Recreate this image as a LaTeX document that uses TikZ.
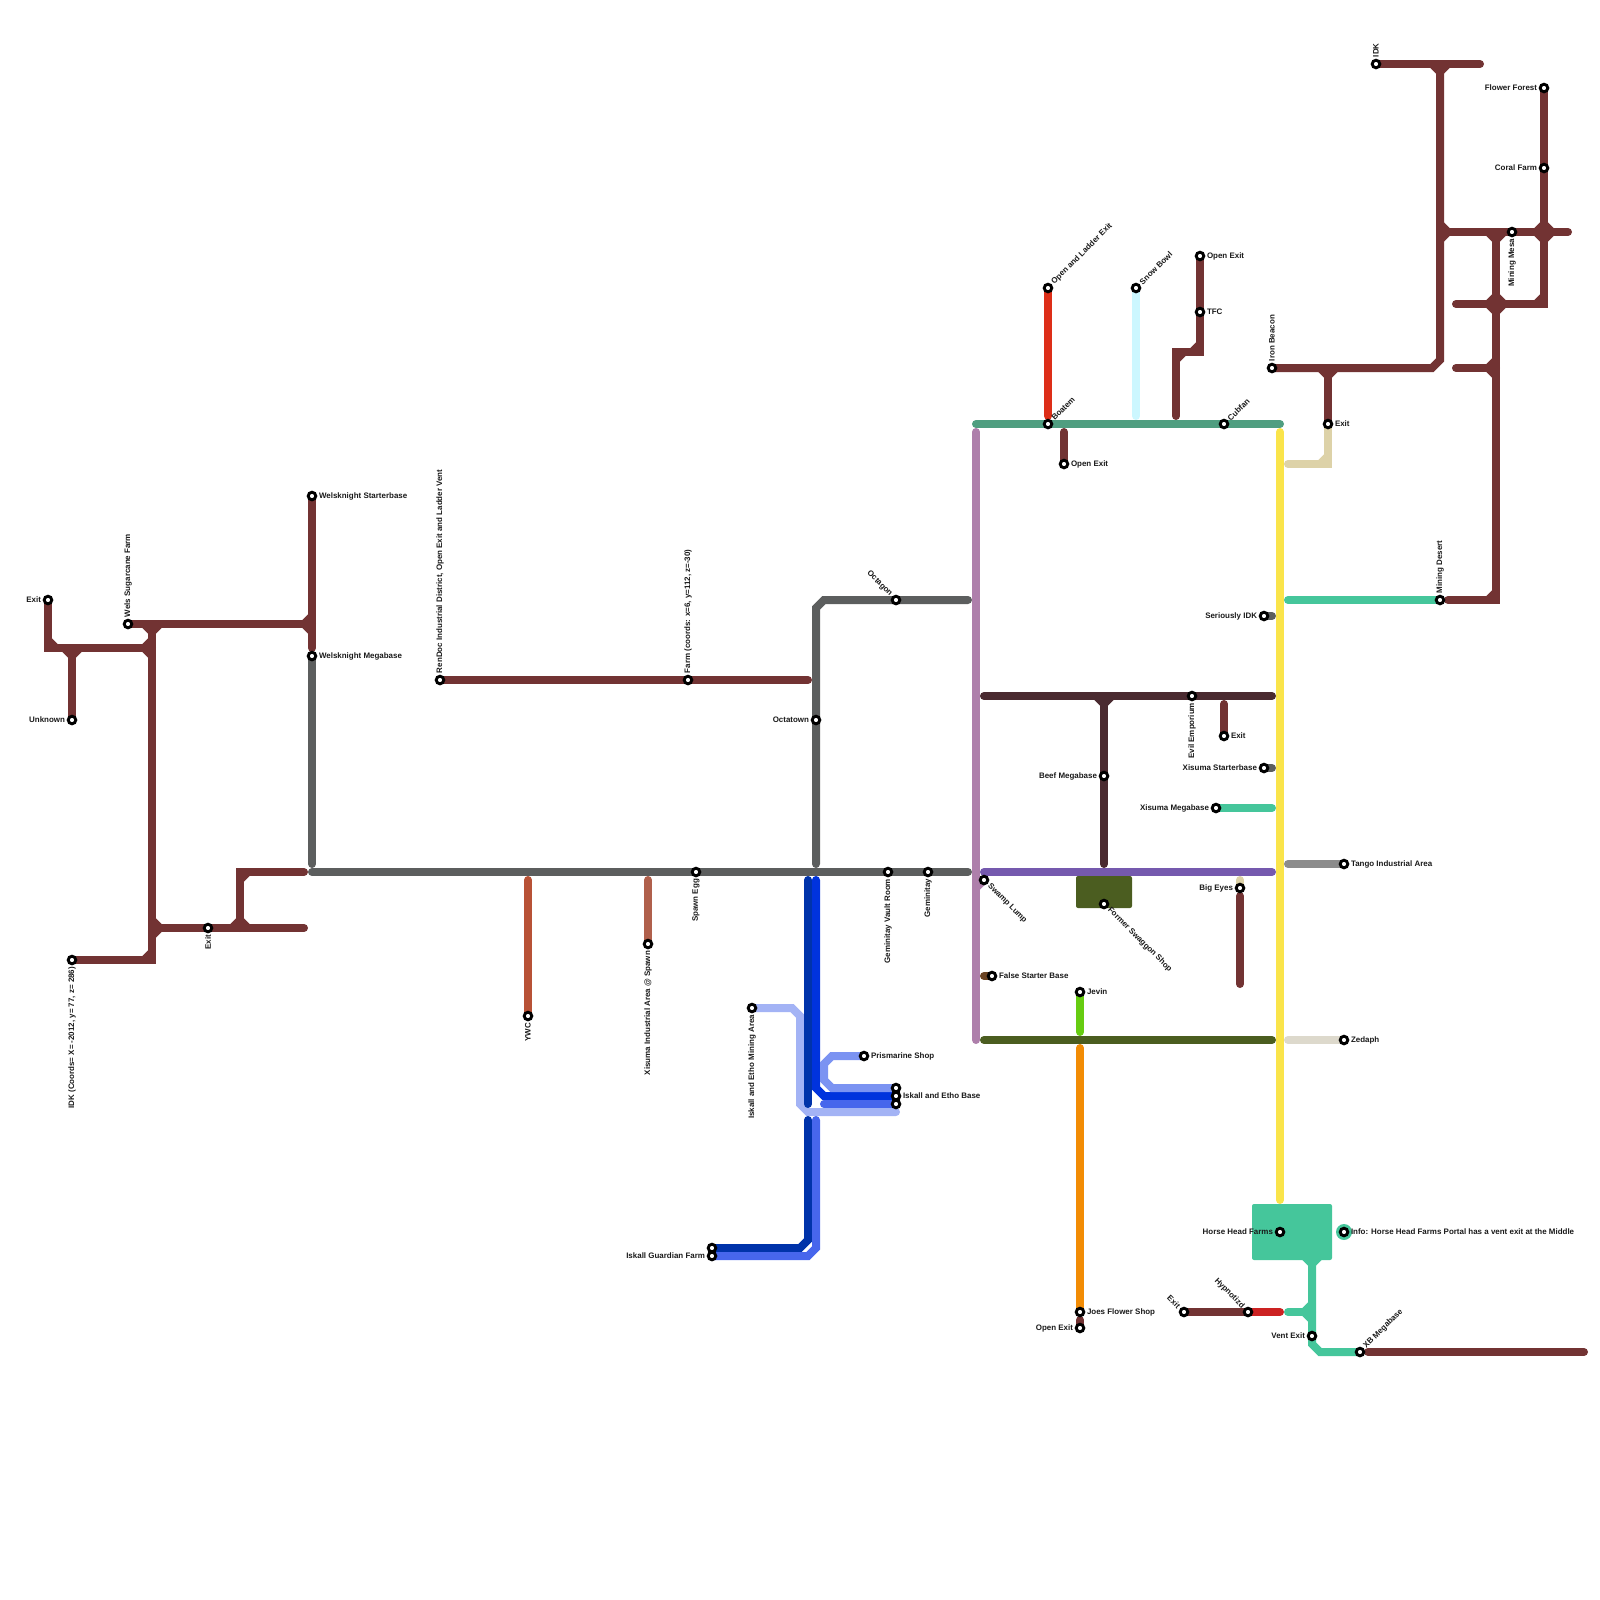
\documentclass[tikz,border=0pt]{standalone}
\usepackage{fontspec}
\setmainfont{Liberation Sans}
\usepackage{xcolor}
\usetikzlibrary{backgrounds}
\definecolor{wine}{HTML}{723333}
\definecolor{slate}{HTML}{5C5E5E}
\definecolor{plum}{HTML}{4A2A30}
\definecolor{mint}{HTML}{45C69B}
\definecolor{sea}{HTML}{4F9E80}
\definecolor{mauve}{HTML}{AE7FAB}
\definecolor{violet}{HTML}{7559AE}
\definecolor{moss}{HTML}{4B5D20}
\definecolor{lemon}{HTML}{FAE44A}
\definecolor{sand}{HTML}{DDD2A8}
\definecolor{navyb}{HTML}{0033AA}
\definecolor{brightb}{HTML}{0033DD}
\definecolor{royalb}{HTML}{4766EC}
\definecolor{periw}{HTML}{7B93F2}
\definecolor{paleb}{HTML}{A3B3F5}
\tikzset{
  metro/.style  = {line width=1mm, line cap=round, line join=miter},
  lwine/.style  = {metro, draw=wine},
  lslate/.style = {metro, draw=slate},
  lplum/.style  = {metro, draw=plum},
  lmint/.style  = {metro, draw=mint},
  lmoss/.style  = {metro, draw=moss},
  cham/.style   = {line cap=butt},
  stn/.style    = {circle, draw=black, fill=white, line width=0.36mm,
                   minimum size=0.95mm, inner sep=0pt},
  lbl/.style    = {font=\fontsize{2.83}{3.2}\selectfont\bfseries, inner sep=0.15mm,
                   text=black!90},
  lblR/.style   = {label={[lbl,anchor=west]0:{#1}}},
  lblL/.style   = {label={[lbl,anchor=east]180:{#1}}},
  lblU/.style   = {label={[lbl,rotate=90,anchor=west]90:{#1}}},
  lblD/.style   = {label={[lbl,rotate=90,anchor=east]270:{#1}}},
  lblNE/.style  = {label={[lbl,rotate=45,anchor=west]45:{#1}}},
  lblSE/.style  = {label={[lbl,rotate=-45,anchor=west]-45:{#1}}},
  lblNW/.style  = {label={[lbl,rotate=-45,anchor=east]135:{#1}}},
}
\begin{document}
\begin{tikzpicture}[x=1mm,y=-1mm]
  \useasboundingbox (0,0) rectangle (200,200);
  % stations, west to east
  \node[stn, lblL={Exit}] (exitA) at (6,75) {};
  \node[stn, lblL={Unknown}] (unknown) at (9,90) {};
  \node[stn, lblU={Wels Sugarcane Farm}] (welsFarm) at (16,78) {};
  \node[stn, lblD={IDK (Coords= X= -2012, y= 77, z= 286)}] (idkCoords) at (9,120) {};
  \node[stn, lblD={Exit}] (exitB) at (26,116) {};
  \node[stn, lblR={Welsknight Starterbase}] (welsStart) at (39,62) {};
  \node[stn, lblR={Welsknight Megabase}] (welsMega) at (39,82) {};
  \node[stn, lblU={RenDoc Industrial District, Open Exit and Ladder Vent}] (renDoc) at (55,85) {};
  \node[stn, lblU={Farm (coords: x=6, y=112, z=-30)}] (farm) at (86,85) {};
  \node[stn, lblD={YWC}] (ywc) at (66,127) {};
  \node[stn, lblD={Xisuma Industrial Area @ Spawn}] (xisIndustrial) at (81,118) {};
  \node[stn, lblD={Spawn Egg}] (spawnEgg) at (87,109) {};
  \node[stn, lblL={Octatown}] (octatown) at (102,90) {};
  \node[stn, lblNW={Octagon}] (octagon) at (112,75) {};
  \node[stn, lblD={Geminitay Vault Room}] (gemVault) at (111,109) {};
  \node[stn, lblD={Geminitay}] (geminitay) at (116,109) {};
  \node[stn, lblD={Iskall and Etho Mining Area}] (iskMining) at (94,126) {};
  \node[stn, lblR={Prismarine Shop}] (prismarine) at (108,132) {};
  \node[stn] (iskBaseA) at (112,136) {};
  \node[stn, lblR={Iskall and Etho Base}] (iskBaseB) at (112,137) {};
  \node[stn] (iskBaseC) at (112,138) {};
  \node[stn] (iskGuardA) at (89,156) {};
  \node[stn, lblL={Iskall Guardian Farm}] (iskGuardB) at (89,157) {};
  \node[stn, lblSE={Swamp Lump}] (swamp) at (123,110) {};
  \node[stn, lblR={False Starter Base}] (falseStart) at (124,122) {};
  \node[stn, lblSE={Former Swaggon Shop}] (swaggon) at (138,113) {};
  \node[stn, lblR={Jevin}] (jevin) at (135,124) {};
  \node[stn, lblR={Joes Flower Shop}] (joes) at (135,164) {};
  \node[stn, lblL={Open Exit}] (openC) at (135,166) {};
  \node[stn, lblNE={Boatem}] (boatem) at (131,53) {};
  \node[stn, lblNE={Open and Ladder Exit}] (openLadder) at (131,36) {};
  \node[stn, lblR={Open Exit}] (openA) at (133,58) {};
  \node[stn, lblNE={Snow Bowl}] (snowBowl) at (142,36) {};
  \node[stn, lblR={Open Exit}] (openB) at (150,32) {};
  \node[stn, lblR={TFC}] (tfc) at (150,39) {};
  \node[stn, lblNE={Cubfan}] (cubfan) at (153,53) {};
  \node[stn, lblD={Evil Emporium}] (evil) at (149,87) {};
  \node[stn, lblR={Exit}] (exitC) at (153,92) {};
  \node[stn, lblL={Beef Megabase}] (beef) at (138,97) {};
  \node[stn, lblL={Seriously IDK}] (seriously) at (158,77) {};
  \node[stn, lblL={Xisuma Starterbase}] (xisStart) at (158,96) {};
  \node[stn, lblL={Xisuma Megabase}] (xisMega) at (152,101) {};
  \node[stn, lblL={Big Eyes}] (bigEyes) at (155,111) {};
  \node[stn, lblU={Iron Beacon}] (ironBeacon) at (159,46) {};
  \node[stn, lblR={Exit}] (exitD) at (166,53) {};
  \node[stn, lblR={Tango Industrial Area}] (tango) at (168,108) {};
  \node[stn, lblR={Zedaph}] (zedaph) at (168,130) {};
  \node[stn, lblL={Horse Head Farms}] (horseHead) at (160,154) {};
  \node[stn, lblR={Info: Horse Head Farms Portal has a vent exit at the Middle}] (info) at (168,154) {};
  \node[stn, lblNW={Exit}] (exitE) at (148,164) {};
  \node[stn, lblNW={Hypnotizd}] (hypnotizd) at (156,164) {};
  \node[stn, lblL={Vent Exit}] (ventExit) at (164,167) {};
  \node[stn, lblNE={XB Megabase}] (xbMega) at (170,169) {};
  \node[stn, lblU={IDK}] (idkTop) at (172,8) {};
  \node[stn, lblU={Mining Desert}] (miningDesert) at (180,75) {};
  \node[stn, lblD={Mining Mesa}] (miningMesa) at (189,29) {};
  \node[stn, lblL={Flower Forest}] (flowerForest) at (193,11) {};
  \node[stn, lblL={Coral Farm}] (coralFarm) at (193,21) {};
  % free ends and bends of the lines
  \foreach \n/\x/\y in {a/6/81, b/9/81, c/19/81, d/19/78, e/39/78, f/39/81, g/19/116, h/38/116,
      i/30/116, j/38/109, k/39/108, l/39/109, m/121/109, n/101/85, o/102/108, p/102/76,
      q/103/75, r/121/75, s/66/110, t/81/110, u/101/110, v/101/138, w/102/110, x/102/136,
      y/103/137, z/101/140, aa/101/155, ab/100/156, ac/102/140, ad/102/156, ae/101/157,
      af/103/138, ag/104/132, ah/103/133, ai/103/135, aj/104/136, ak/99/126, al/100/127,
      am/100/138, an/101/139, ao/112/139, ap/122/54, aq/122/130, ar/122/111, as/123/87,
      at/159/87, au/138/108, av/123/109, aw/159/109, ax/123/130, ay/159/130, az/123/122,
      ba/135/129, bb/135/131, bc/135/165, bd/122/53, be/160/53, bf/131/52, bg/133/54,
      bh/142/52, bi/147/52, bj/150/44, bk/147/44, bl/153/88, bm/159/96, bn/159/77, bo/159/101,
      bp/155/110, bq/155/112, br/155/123, bs/160/54, bt/160/150, bu/166/58, bv/161/58,
      bw/161/75, bx/161/108, by/161/130, bz/179/46, ca/180/45, cb/180/8, cc/185/8,
      cd/166/46, ce/196/29, cf/180/29, cg/187/29, ch/187/75, ci/181/75, cj/193/38,
      ck/182/38, cl/182/46, cm/187/46, cn/164/157, co/164/168, cp/165/169, cq/161/164,
      cr/164/164, cs/160/164, ct/171/169, cu/198/169, cv/138/87}
    \coordinate (\n) at (\x,\y);
  \begin{scope}[on background layer]
    % blocks
    \fill[moss, rounded corners=0.25mm] (134.5,109.5) rectangle (141.5,113.5);
    \fill[mint, rounded corners=0.25mm] (156.5,150.5) rectangle (166.5,157.5);
    \fill[mint] (info) circle (1mm);
    % wine lines
    \draw[lwine] (exitA.center) |- (c);
    \draw[lwine] (unknown.center) -- (b);
    \draw[lwine] (welsFarm.center) -- (e);
    \draw[lwine] (welsStart.center) -- (f);
    \draw[lwine] (idkCoords.center) -| (d);
    \draw[lwine] (g) -- (h);
    \draw[lwine] (i) |- (j);
    \draw[lwine] (renDoc.center) -- (n);
    \draw[lwine] (openB.center) |- (bk) -- (bi);
    \draw[lwine] (openA.center) -- (bg);
    \draw[lwine] (exitC.center) -- (bl);
    \draw[lwine] (bq) -- (br);
    \draw[lwine] (exitE.center) -- (hypnotizd.center);
    \draw[lwine] (ct) -- (cu);
    \draw[lwine] (ironBeacon.center) -- (bz) -- (ca) -- (cb);
    \draw[lwine] (idkTop.center) -- (cc);
    \draw[lwine] (cd) -- (exitD.center);
    \draw[lwine] (cf) -- (ce);
    \draw[lwine] (flowerForest.center) -- (cj) -- (ck);
    \draw[lwine] (cg) -- (ch) -- (ci);
    \draw[lwine] (cl) -- (cm);
    \foreach \x/\y/\dx/\dy in {6/81/1/-1, 9/81/-1/1, 9/81/1/1, 19/81/-1/-1, 19/81/-1/1, 19/78/-1/1, 19/78/1/1,
        39/78/-1/-1, 39/78/-1/1, 19/116/1/-1, 19/116/1/1, 19/120/-1/-1, 30/116/-1/-1, 30/116/1/-1,
        30/109/1/1, 150/44/-1/-1, 147/44/1/1, 166/46/-1/1, 166/46/1/1, 180/8/-1/1, 180/8/1/1,
        180/29/1/-1, 180/29/1/1, 187/29/-1/1, 187/29/1/1, 193/29/-1/-1, 193/29/1/-1, 193/29/-1/1,
        193/29/1/1, 187/38/-1/-1, 187/38/1/-1, 187/38/-1/1, 187/38/1/1, 193/38/-1/-1,
        187/46/-1/-1, 187/46/-1/1, 187/75/-1/-1}
      \draw[lwine, cham] (\x+\dx,\y) -- (\x,\y+\dy);
    % slate lines
    \draw[lslate] (welsMega.center) -- (k);
    \draw[lslate] (l) -- (m);
    \draw[lslate] (o) -- (p) -- (q) -- (r);
    \draw[lslate] (seriously.center) -- (bn);
    \draw[lslate] (xisStart.center) -- (bm);
    % short branches off the grey line
    \draw[metro, draw={rgb,255:red,184;green,82;blue,54}] (s) -- (ywc.center);
    \draw[metro, draw={rgb,255:red,176;green,96;blue,76}] (t) -- (xisIndustrial.center);
    % blue lines
    \draw[metro, draw=paleb] (iskMining.center) -- (ak) -- (al) -- (am) -- (an) -- (ao);
    \draw[metro, draw=navyb] (u) -- (v);
    \draw[metro, draw=brightb] (w) -- (x) -- (y) -- (iskBaseB.center);
    \draw[metro, draw=navyb] (z) -- (aa) -- (ab) -- (iskGuardA.center);
    \draw[metro, draw=royalb] (ac) -- (ad) -- (ae) -- (iskGuardB.center);
    \draw[metro, draw=royalb] (af) -- (iskBaseC.center);
    \draw[metro, draw=periw] (prismarine.center) -- (ag) -- (ah) -- (ai) -- (aj) -- (iskBaseA.center);
    % the frame of the centre
    \draw[metro, draw=mauve] (ap) -- (aq);
    \draw[metro, draw=mauve] (ar) -- (swamp.center);
    \draw[metro, draw=sea] (bd) -- (be);
    \draw[metro, draw=lemon] (bs) -- (bt);
    \draw[lplum] (as) -- (at);
    \draw[lplum] (cv) -- (au);
    \draw[lplum, cham] (137,87) -- (138,88);
    \draw[lplum, cham] (139,87) -- (138,88);
    \draw[metro, draw=violet] (av) -- (aw);
    \draw[lmoss] (ax) -- (ay);
    % little branches
    \draw[metro, draw={rgb,255:red,107;green,68;blue,35}] (az) -- (falseStart.center);
    \draw[metro, draw={rgb,255:red,102;green,204;blue,17}] (jevin.center) -- (ba);
    \draw[metro, draw={rgb,255:red,242;green,140;blue,5}] (bb) -- (joes.center);
    \draw[lwine] (bc) -- (openC.center);
    \draw[metro, draw={rgb,255:red,221;green,46;blue,24}] (openLadder.center) -- (bf);
    \draw[metro, draw={rgb,255:red,204;green,247;blue,255}] (snowBowl.center) -- (bh);
    \draw[lmint] (xisMega.center) -- (bo);
    \draw[metro, draw=sand] (bp) -- (bigEyes.center);
    \draw[metro, draw=sand] (exitD.center) |- (bv);
    \draw[metro, draw=sand, cham] (165,58) -- (166,57);
    \draw[lmint] (bw) -- (miningDesert.center);
    \draw[metro, draw={rgb,255:red,140;green,140;blue,140}] (bx) -- (tango.center);
    \draw[metro, draw={rgb,255:red,221;green,217;blue,204}] (by) -- (zedaph.center);
    \draw[metro, draw={rgb,255:red,204;green,34;blue,34}] (hypnotizd.center) -- (cs);
    \draw[lmint] (cq) -- (cr);
    \draw[lmint] (cn) -- (co) -- (cp) -- (xbMega.center);
    \foreach \x/\y/\dx/\dy in {164/157/-1/1, 164/157/1/1, 164/164/-1/-1, 164/164/-1/1}
      \draw[lmint, cham] (\x+\dx,\y) -- (\x,\y+\dy);
  \end{scope}
\end{tikzpicture}
\end{document}
